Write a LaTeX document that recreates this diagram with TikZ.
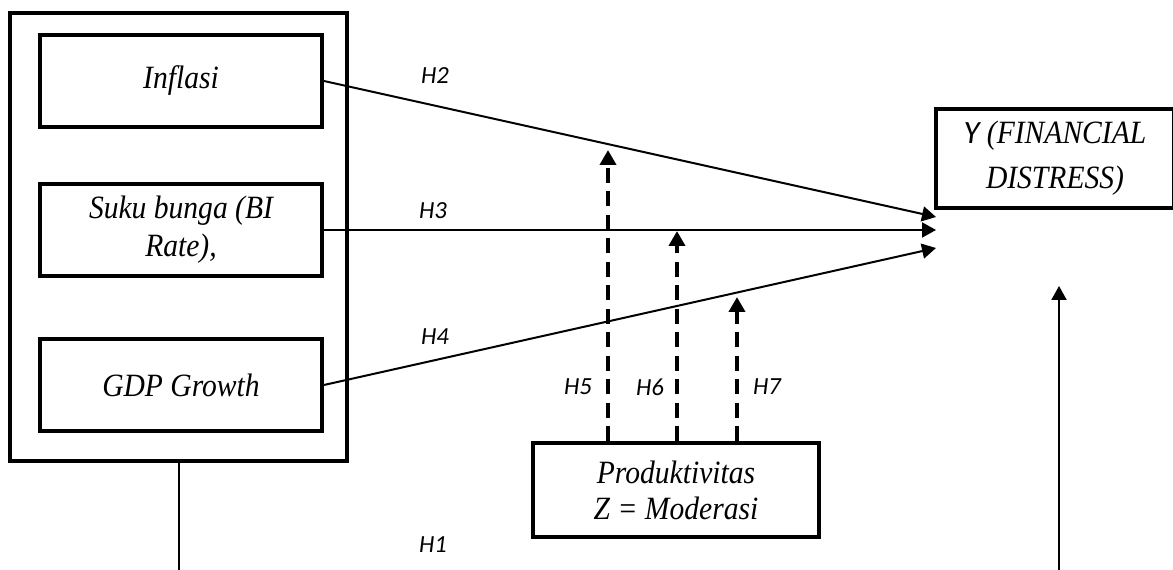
\documentclass[tikz,border=0pt]{standalone}
\usepackage{fontspec}
\setmainfont{Liberation Serif}[FakeStretch=0.91]
\newfontfamily\hfont{Carlito}
\usetikzlibrary{arrows.meta}

\begin{document}
\begin{tikzpicture}[x=0.02cm,y=-0.02cm,
  box/.style={draw,line width=0.08cm,minimum width=5.64cm,minimum height=1.84cm,
    align=center,inner sep=0pt,font=\fontsize{18.5}{21.6}\selectfont\itshape},
  hyp/.style={font=\fontsize{14}{16}\selectfont\hfont\itshape},
  link/.style={line width=0.04cm,-{Triangle[length=0.28cm,width=0.3cm]}},
  moder/.style={line width=0.08cm,dash pattern=on 0.3cm off 0.17cm,
    -{Triangle[length=0.3cm,width=0.32cm]}}]
\useasboundingbox (0,0) rectangle (1173,570);

% left group
\node[draw,line width=0.08cm,minimum width=6.74cm,minimum height=8.96cm] (grp) at (178.5,237) {};
\node[box] (infl) at (181,81) {Inflasi};
\node[box] (suku) at (181,230) {Suku bunga (BI\\Rate),};
\node[box] (gdp) at (181,385) {GDP Growth};

% right one
\node[box,minimum width=4.76cm,minimum height=1.98cm,
  font=\fontsize{18.5}{25.6}\selectfont\itshape] (fd) at (1055,158.5) {{\hfont Y} (FINANCIAL\\DISTRESS)};

\node[box,minimum width=5.72cm,minimum height=1.88cm,
  font=\fontsize{18.5}{20.5}\selectfont\itshape] (mod) at (676,490) {Produktivitas\\Z = Moderasi};

\coordinate (t2) at (936,217);
\coordinate (t3) at (936,230);
\coordinate (t4) at (936,248);
\draw[link] (infl.east) -- (t2);
\draw[link] (suku.east) -- (t3);
\draw[link] (gdp.east) -- (t4);

% moderation
\coordinate (m5) at (608,150);
\coordinate (m6) at (677,231);
\coordinate (m7) at (737,297);
\draw[moder] (mod.north -| m5) -- (m5);
\draw[moder] (mod.north -| m6) -- (m6);
\draw[moder] (mod.north -| m7) -- (m7);

\coordinate (b1) at (178.5,570);
\coordinate (b2) at (1059,570);
\coordinate (r1) at (1059,286);
\draw[line width=0.04cm] (grp.south) -- (b1);
\draw[link] (b2) -- (r1);

\node[hyp] (h1) at (433,545) {H1};
\node[hyp] (h2) at (435,76) {H2};
\node[hyp] (h3) at (433,211) {H3};
\node[hyp] (h4) at (435,337) {H4};
\node[hyp] (h5) at (578,387) {H5};
\node[hyp] (h6) at (650,387) {H6};
\node[hyp] (h7) at (767,387) {H7};
\end{tikzpicture}
\end{document}
